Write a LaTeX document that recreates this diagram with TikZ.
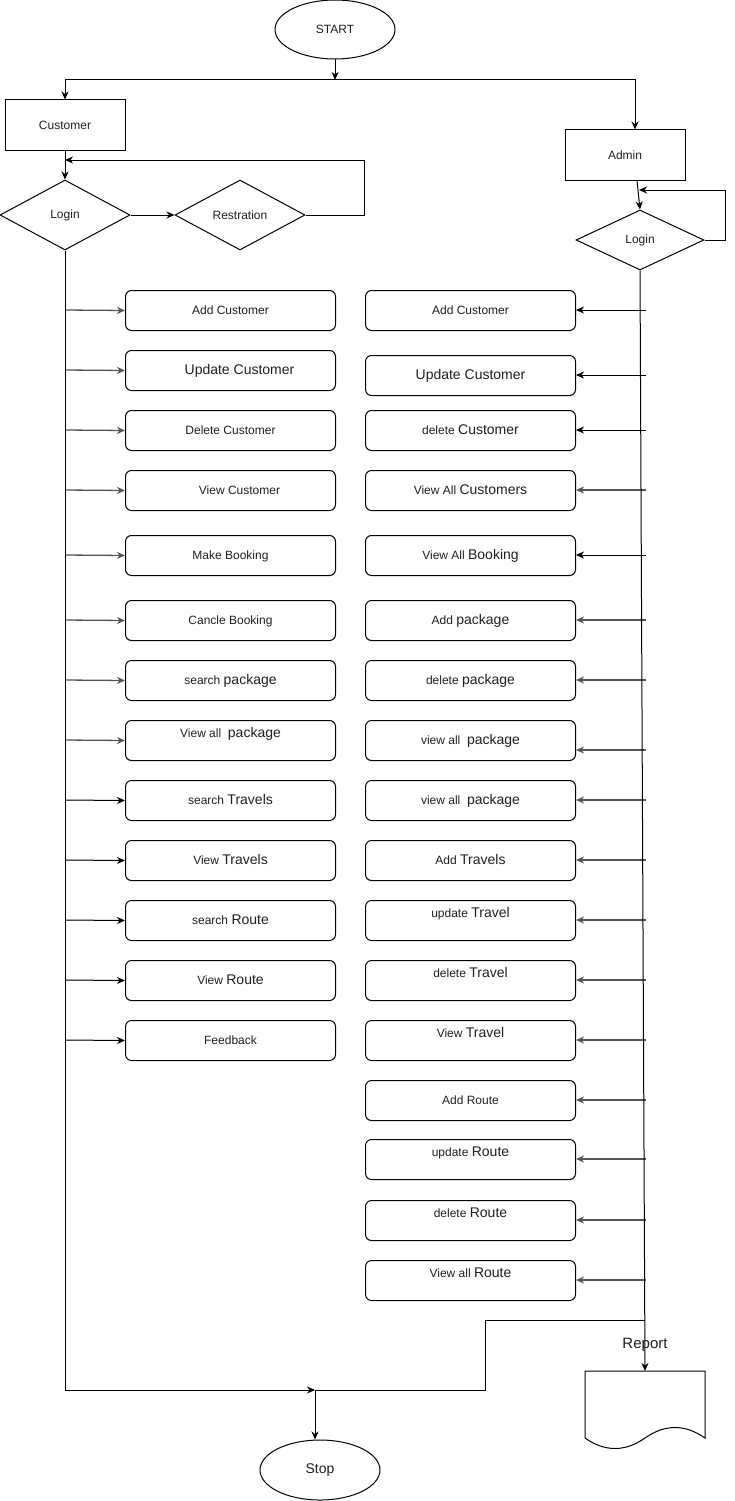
\documentclass[tikz,border=0pt]{standalone}
\usepackage{fontspec}
\setmainfont{Liberation Sans}
\usetikzlibrary{arrows.meta,shapes.geometric}
\definecolor{txt}{HTML}{1F1F1F}
\definecolor{gr}{HTML}{555555}
\newcommand\sT[1]{{\fontsize{12}{14}\selectfont #1}}
\newcommand\bT[1]{{\fontsize{14}{16}\selectfont #1}}
\begin{document}
\begin{tikzpicture}[x=1pt,y=-1pt,line width=1pt,
  every node/.style={font=\fontsize{12}{14}\selectfont,text=txt},
  arr/.style={-{Stealth[length=8pt,width=7pt,inset=2.5pt]}},
  rbox/.style={draw,rounded corners=6pt,minimum width=210pt,minimum height=40pt,inner sep=0pt,text height=10pt,text depth=3pt,anchor=north west},
  lo/.style={},
  hi/.style={text depth=17pt},
  gr/.style={draw=gr,fill=gr,line width=1.3pt},
  bk/.style={draw=black,fill=black},
  sbox/.style={draw,rectangle,minimum width=120pt,minimum height=50pt,inner sep=0pt},
  dia/.style={draw,diamond,minimum width=130pt,minimum height=70pt,inner sep=0pt},
  term/.style={draw,ellipse,minimum width=120pt,minimum height=59pt,inner sep=0pt}]
\useasboundingbox (0,0) rectangle (734,1501);

% top
\node[term] (start) at (335,29.5) {START};
\coordinate (sp) at (335,80);
\node[sbox] (cust) at (65,125) {Customer};
\node[sbox] (adm) at (625,155) {Admin};
\node[dia] (cl) at (65,215) {Login};
\node[dia] (reg) at (240,215) {Restration};
\node[dia,minimum width=128pt,minimum height=60pt] (al) at (640,240) {Login};

\draw[arr] (start) -- (sp);
\draw[arr] (sp) -| (cust.north);
\draw[arr] (sp) -| ([xshift=10pt]adm.north);
\draw[arr] (cust) -- (cl);
\draw[arr] (cl) -- (reg);
\coordinate (jc) at (65,160);
\draw[arr] (reg.east) -- ++(59,0) |- (jc);
\draw[arr] ([xshift=12pt]adm.south) -- (al.north);
\coordinate (ja) at (639,190);
\draw[arr] (al.east) -- ++(21,0) |- (ja);

% customer column
\foreach \n/\y/\col/\st/\txt in {
  c1/290/gr/lo/\sT{Add Customer},
  c2/350/gr/lo/\hspace*{18pt}\bT{Update Customer},
  c3/410/gr/lo/\sT{Delete Customer},
  c4/470/gr/lo/\hspace*{18pt}\sT{View Customer},
  c5/535/gr/lo/\sT{Make Booking},
  c6/600/gr/lo/\sT{Cancle Booking},
  c7/660/gr/lo/\sT{search} \bT{package},
  c8/720/gr/hi/\sT{View all\ \ }\bT{package},
  c9/780/bk/lo/\sT{search} \bT{Travels},
  c10/840/bk/lo/\sT{View} \bT{Travels},
  c11/900/bk/lo/\sT{search} \bT{Route},
  c12/960/bk/lo/\sT{View} \bT{Route},
  c13/1020/bk/lo/\sT{Feedback}}{
  \node[rbox,\st] (\n) at (125,\y) {\txt};
  \coordinate (s\n) at (65,\y+20);
  \draw[arr,\col] (s\n) -- (\n.west);
}

% admin column
\foreach \n/\y/\ay/\col/\st/\txt in {
  a1/290/310/bk/lo/\sT{Add Customer},
  a2/355/375/bk/lo/\bT{Update Customer},
  a3/410/430/bk/lo/\sT{delete} \bT{Customer},
  a4/470/490/gr/lo/\sT{View All} \bT{Customers},
  a5/535/555/bk/lo/\sT{View All} \bT{Booking},
  a6/600/620/gr/lo/\sT{Add} \bT{package},
  a7/660/680/gr/lo/\sT{delete} \bT{package},
  a8/720/750/gr/lo/\sT{view all\ \ }\bT{package},
  a9/780/800/gr/lo/\sT{view all\ \ }\bT{package},
  a10/840/860/gr/lo/\sT{Add} \bT{Travels},
  a11/900/920/gr/hi/\sT{update} \bT{Travel},
  a12/960/980/gr/hi/\sT{delete} \bT{Travel},
  a13/1020/1040/gr/hi/\sT{View} \bT{Travel},
  a14/1080/1100/gr/lo/\sT{Add Route},
  a15/1139/1159/gr/hi/\sT{update} \bT{Route},
  a16/1200/1220/gr/hi/\sT{delete} \bT{Route},
  a17/1260/1280/gr/hi/\sT{View all} \bT{Route}}{
  \node[rbox,\st] (\n) at (365,\y) {\txt};
  \coordinate (s\n) at (646,\ay);
  \draw[arr,\col] (s\n) -- (s\n -| \n.east);
}

% report document
\coordinate (rep) at (645,1371);
\draw (585,1438) -- (585,1371) -- (705,1371) -- (705,1438)
  .. controls (685,1424) and (665,1424) .. (645,1438)
  .. controls (625,1452) and (605,1452) .. (585,1438) -- cycle;
\draw[arr] (al.south) -- (rep);
\node[font=\fontsize{15}{17}\selectfont] (rlab) at (645,1345) {Report};

% bottom
\node[term,minimum height=60pt,font=\fontsize{14}{16}\selectfont] (stop) at (320,1470) {Stop};
\coordinate (cb) at (65,1390);
\coordinate (jm) at (315,1390);
\coordinate (ab) at (645,1320);
\draw (cl.south) -- (cb);
\draw[arr] (cb) -- (jm);
\draw (ab) -- (485,1320) -- (485,1390) -- (jm);
\draw[arr] (jm) -- (jm |- stop.north);
\end{tikzpicture}
\end{document}
